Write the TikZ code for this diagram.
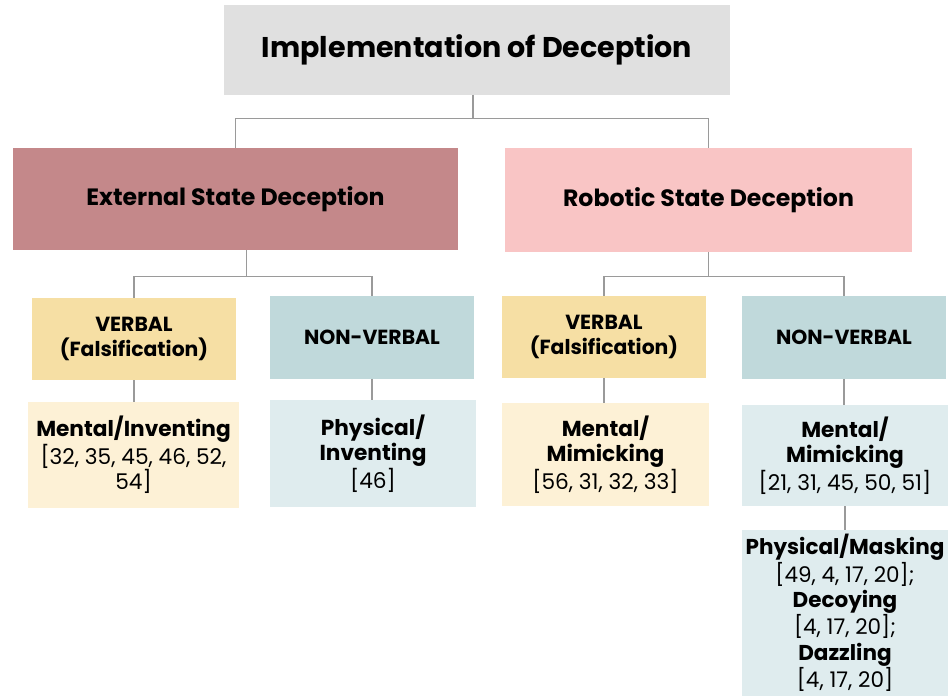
\documentclass[tikz,border=0pt]{standalone}
\usepackage{fontspec}
\setmainfont{Poppins}
\definecolor{titlegray}{HTML}{E0E0E0}
\definecolor{extred}{HTML}{C4888A}
\definecolor{robpink}{HTML}{F9C5C5}
\definecolor{verbyellow}{HTML}{F6DFA4}
\definecolor{nonvblue}{HTML}{C0D9DB}
\definecolor{verblight}{HTML}{FDF1D6}
\definecolor{nonvlight}{HTML}{DFECEE}
\definecolor{linegray}{HTML}{9A9A9A}
\tikzset{
  lvltwo/.style={minimum width=10.6cm,minimum height=2.6cm,font=\fontsize{16.8}{20}\selectfont\bfseries},
  lvlthree/.style={minimum width=5.1cm,minimum height=2.05cm,font=\fontsize{14.5}{17.7}\selectfont\bfseries},
  lvlfour/.style={minimum width=5.2cm,minimum height=2.6cm,font=\fontsize{15.4}{17.9}\selectfont},
}
\begin{document}
\begin{tikzpicture}[x=0.025cm,y=-0.025cm]
  \useasboundingbox (0,0) rectangle (948,696);

  \begin{scope}[every node/.style={rectangle,align=center,inner sep=0pt,text=black}]
    \node[fill=titlegray,minimum width=12.625cm,minimum height=2.225cm,
          font=\fontsize{20.3}{24}\selectfont\bfseries] (impl) at (477,50) {Implementation of Deception};

    \node[lvltwo,fill=extred,minimum width=11.125cm,minimum height=2.55cm] (ext) at (235.5,199) {External State Deception};
    \node[lvltwo,fill=robpink,minimum width=10.175cm] (rob) at (708.5,200) {Robotic State Deception};

    \node[lvlthree,fill=verbyellow] (vl) at (134,339)   {VERBAL\\(Falsification)};
    \node[lvlthree,fill=nonvblue]   (nl) at (372,337.5) {NON-VERBAL};
    \node[lvlthree,fill=verbyellow] (vr) at (604,337)   {VERBAL\\(Falsification)};
    \node[lvlthree,fill=nonvblue]   (nr) at (844,337.5) {NON-VERBAL};

    \node[lvlfour,fill=verblight,minimum width=5.275cm,minimum height=2.65cm] (minv) at (133.5,455)
      {\textbf{Mental/Inventing}\\{}[32, 35, 45, 46, 52,\\54]};
    \node[lvlfour,fill=nonvlight,minimum width=5.15cm,minimum height=2.675cm] (pinv) at (373,453.5)
      {\textbf{Physical/}\\\textbf{Inventing}\\{}[46]};
    \node[lvlfour,fill=verblight,minimum width=5.175cm,minimum height=2.575cm] (mmiml) at (605.5,454.5)
      {\textbf{Mental/}\\\textbf{Mimicking}\\{}[56, 31, 32, 33]};
    \node[lvlfour,fill=nonvlight,minimum width=5.15cm,minimum height=2.525cm] (mmimr) at (845,455.5)
      {\textbf{Mental/}\\\textbf{Mimicking}\\{}[21, 31, 45, 50, 51]};
    \node[lvlfour,fill=nonvlight,minimum width=5.15cm,minimum height=4.15cm,
          font=\fontsize{15.3}{18.1}\selectfont] (pmask) at (845,613)
      {\textbf{Physical/Masking}\\{}[49, 4, 17, 20];\\\textbf{Decoying}\\{}[4, 17, 20];\\\textbf{Dazzling}\\{}[4, 17, 20]};
  \end{scope}

  \begin{scope}[linegray,line width=0.9pt]
    \draw (impl.south) ++(-4,0) -- ++(0,24) -| (ext.north);
    \draw (impl.south) ++(-4,24) -| (rob.north);
    \draw (ext.south) ++(11,0) -- ++(0,26) coordinate (extj);
    \draw (extj) -| (vl.north);
    \draw (extj) -| (nl.north);
    \draw (rob.south) -- ++(0,24) coordinate (robj);
    \draw (robj) -| (vr.north);
    \draw (robj) -| (nr.north);
    \draw (vl.south) -- (vl.south |- minv.north);
    \draw (nl.south) -- (nl.south |- pinv.north);
    \draw (vr.south) -- (vr.south |- mmiml.north);
    \draw (nr.south) -- (nr.south |- mmimr.north);
    \draw (mmimr.south) -- (pmask.north);
  \end{scope}

\end{tikzpicture}
\end{document}
